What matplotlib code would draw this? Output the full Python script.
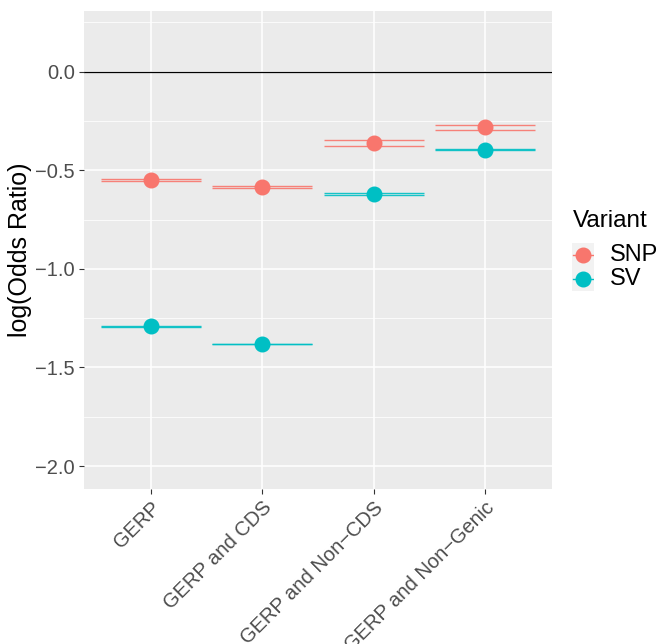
import matplotlib
matplotlib.use("Agg")
import matplotlib.pyplot as plt
import numpy as np

# data
categories = ["GERP", "GERP and CDS", "GERP and Non\u2212CDS", "GERP and Non\u2212Genic"]
snp_est = [-0.550, -0.584, -0.362, -0.282]
snp_lo = [-0.554, -0.588, -0.376, -0.295]
snp_hi = [-0.546, -0.580, -0.348, -0.270]
sv_est = [-1.292, -1.381, -0.620, -0.397]
sv_lo = [-1.294, -1.383, -0.624, -0.400]
sv_hi = [-1.290, -1.379, -0.616, -0.394]
y_ticks = [-2.0, -1.5, -1.0, -0.5, 0.0]
variants = ["SNP", "SV"]

snp_col = "#F8766D"
sv_col = "#00BFC4"

plt.rcParams["font.family"] = ["Liberation Sans", "DejaVu Sans"]

fig = plt.figure(figsize=(6.61, 6.44), dpi=100)
ax = fig.add_axes([84 / 661, 1 - 489 / 644, 468 / 661, 478 / 644])
ax.set_facecolor("#EBEBEB")

x = np.arange(1, len(categories) + 1)

# grid (ggplot style)
for v in y_ticks:
    ax.axhline(v, color="white", lw=1.1, zorder=0)
for v in np.arange(-1.75, 0.3, 0.5):
    ax.axhline(v, color="white", lw=0.55, zorder=0)
for v in x:
    ax.axvline(v, color="white", lw=1.1, zorder=0)

ax.axhline(0, color="black", lw=0.9, zorder=1)

# error bar caps (ymin / ymax) then points
for est, lo, hi, col in [(snp_est, snp_lo, snp_hi, snp_col), (sv_est, sv_lo, sv_hi, sv_col)]:
    ax.hlines(lo, x - 0.45, x + 0.45, color=col, lw=1.0, alpha=0.9, zorder=2)
    ax.hlines(hi, x - 0.45, x + 0.45, color=col, lw=1.0, alpha=0.9, zorder=2)
    ax.plot(x, est, "o", color=col, ms=10.5, zorder=3)

ax.set_xlim(0.4, 4.6)
ax.set_ylim(-2.116, 0.307)
ax.set_yticks(y_ticks)
ax.set_yticklabels([f"{v:.1f}".replace("-", "\u2212") for v in y_ticks])
ax.set_xticks(x)
ax.set_xticklabels(categories, rotation=45, ha="right", va="top", rotation_mode="anchor")
ax.tick_params(axis="both", labelsize=14.5, labelcolor="#4D4D4D", color="#333333",
               length=3.5, width=0.8, pad=3)
for s in ax.spines.values():
    s.set_visible(False)

fig.text(20 / 661, 1 - 250 / 644, "log(Odds Ratio)", rotation=90, ha="center", va="center",
         fontsize=18)

# legend drawn by hand: title, grey key panel, labels
fig.text(573 / 661, 1 - 221 / 644, "Variant", ha="left", va="center", fontsize=17.5)
kax = fig.add_axes([572 / 661, 1 - 291 / 644, 22 / 661, 48 / 644])
kax.set_facecolor("#F2F2F2")
kax.set_xlim(0, 1)
kax.set_ylim(0, len(variants))
for i, (name, col) in enumerate(zip(variants, [snp_col, sv_col])):
    ky = len(variants) - i - 0.5
    kax.plot([0.05, 0.95], [ky, ky], color=col, lw=1.0)
    kax.plot([0.5], [ky], "o", color=col, ms=10.5)
    fig.text(610 / 661, 1 - (243 + 24 * i + 12) / 644, name, ha="left", va="center",
             fontsize=17)
kax.set_xticks([])
kax.set_yticks([])
for s in kax.spines.values():
    s.set_visible(False)

fig.savefig("out.png", dpi=100)
